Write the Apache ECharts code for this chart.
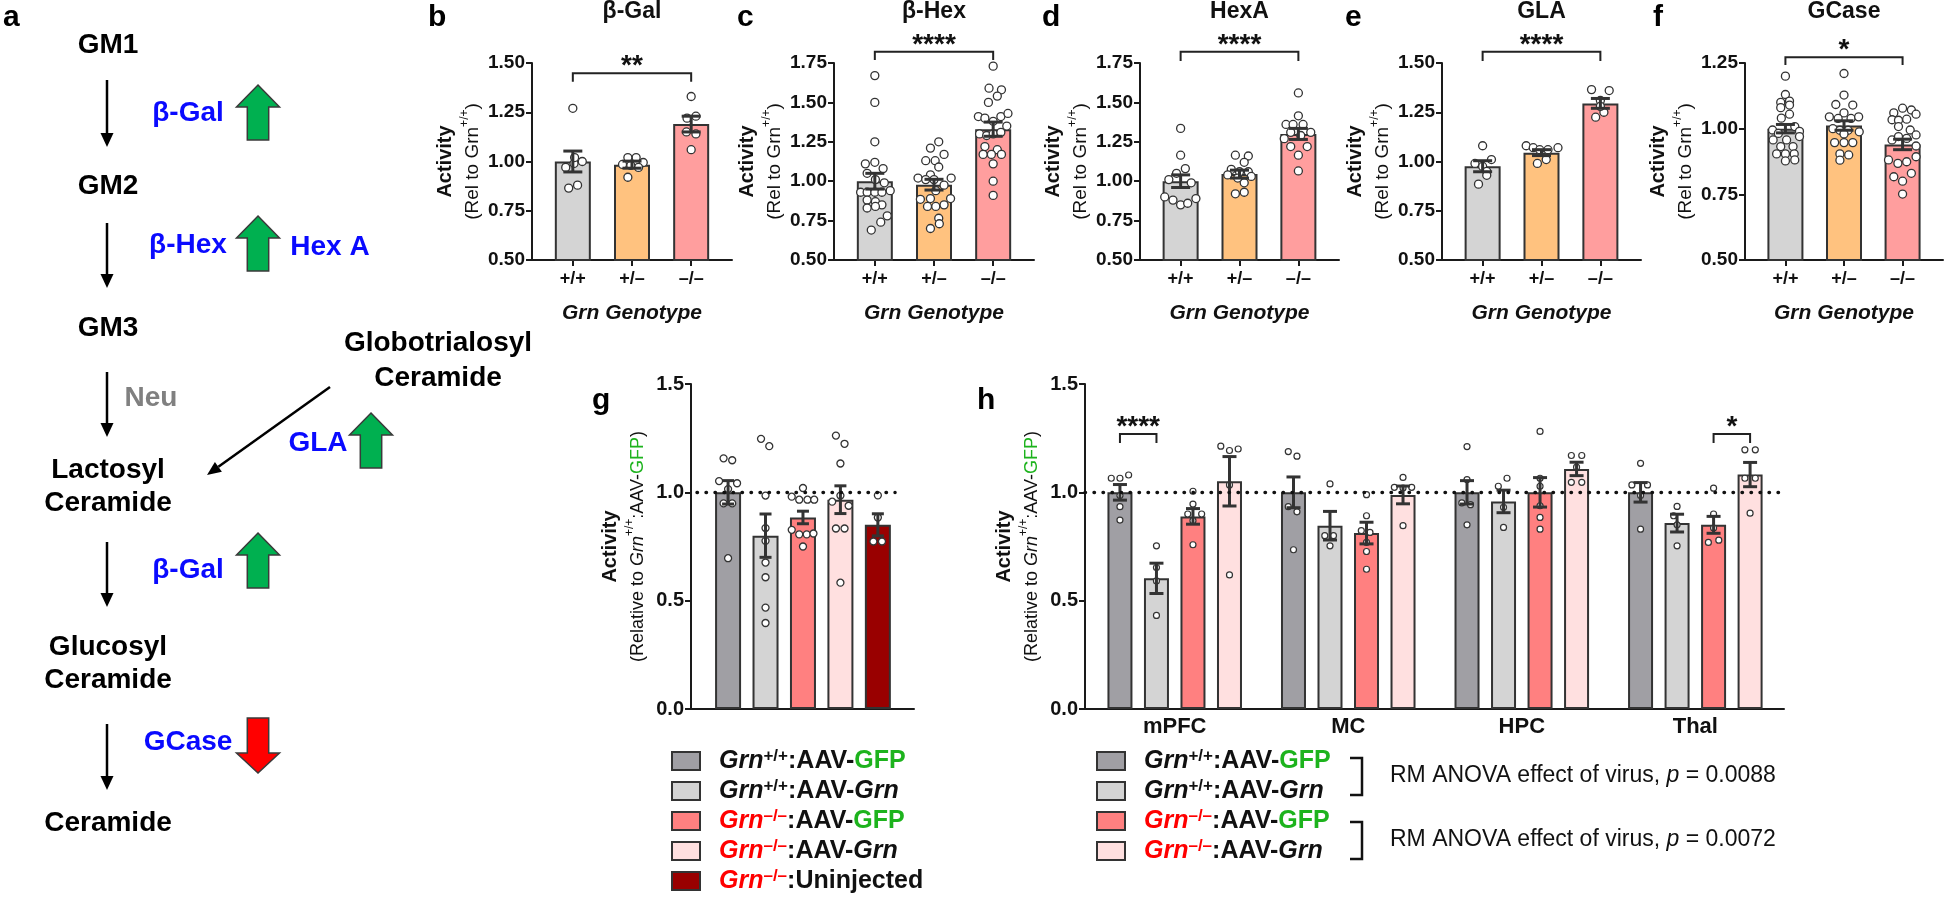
<!DOCTYPE html>
<html><head><meta charset="utf-8">
<script src="https://cdn.jsdelivr.net/npm/echarts@6/dist/echarts.min.js"></script>
<style>html,body{margin:0;padding:0;background:#fff}#c{width:1946px;height:901px}</style>
</head><body><div id="c"></div>
<script>
// ================= DATA =================
// Panels b–f : enzyme activity by Grn genotype
const genotypes = ['+/+', '+/–', '–/–'];
const enzymeTitles = ['β-Gal', 'β-Hex', 'HexA', 'GLA', 'GCase'];
const enzymeLetters = ['b', 'c', 'd', 'e', 'f'];
const enzymeYMin = [0.5, 0.5, 0.5, 0.5, 0.5];
const enzymeYMax = [1.5, 1.75, 1.75, 1.5, 1.25];

const bgalMean = [1.0, 0.984, 1.19];
const bgalSem = [0.053, 0.018, 0.04];
const bgalPts = [
  [[0,1.27],[-0.12,0.97],[0.02,0.99],[0.16,1.0],[0.03,1.02],[-0.07,0.865],[0.08,0.88]],
  [[-0.07,0.92],[0.07,1.02],[-0.07,1.02],[0.19,0.995],[-0.16,0.985],[0.11,0.97],[-0.02,0.98]],
  [[0,1.33],[0.08,1.23],[-0.07,1.22],[0.08,1.14],[-0.08,1.15],[0,1.06]]
];
const bhexMean = [1.0, 0.978, 1.33];
const bhexSem = [0.05, 0.034, 0.045];
const bhexPts = [
  [[0,1.67],[0,1.50],[0,1.25],[-0.16,1.11],[0,1.12],[0.14,1.08],[-0.13,1.05],[0.01,1.01],[0.16,0.99],[-0.24,0.93],[-0.13,0.93],[0,0.93],[0.26,0.94],[0.12,0.93],[-0.13,0.88],[0.01,0.87],[0.12,0.85],[-0.13,0.83],[0.01,0.84],[0.21,0.78],[0.1,0.74],[-0.06,0.69]],
  [[0.08,1.25],[-0.06,1.21],[0.17,1.17],[-0.14,1.13],[0.02,1.13],[0.08,1.09],[-0.06,1.04],[-0.27,1.02],[-0.14,1.01],[0,1.01],[0.29,1.02],[0.17,0.975],[0.03,0.94],[-0.23,0.885],[-0.06,0.89],[0.28,0.89],[-0.11,0.84],[0.03,0.84],[0.17,0.85],[0.08,0.765],[0.09,0.73],[-0.06,0.70]],
  [[0,1.73],[-0.07,1.59],[0.14,1.58],[0.07,1.54],[-0.08,1.50],[-0.25,1.41],[-0.14,1.40],[0,1.38],[0.13,1.41],[0.25,1.43],[0.23,1.35],[-0.23,1.30],[-0.11,1.29],[0,1.30],[0.13,1.31],[-0.14,1.22],[0.07,1.20],[-0.03,1.17],[-0.17,1.17],[0.14,1.17],[0,1.11],[0,1.00],[0,0.91]]
];
const hexaMean = [1.0, 1.045, 1.30];
const hexaSem = [0.04, 0.025, 0.035];
const hexaPts = [
  [[0,1.335],[0,1.165],[0.08,1.08],[-0.07,1.05],[-0.2,1.01],[0.18,0.99],[-0.27,0.90],[-0.13,0.88],[0,0.85],[0.12,0.86],[0.26,0.89]],
  [[-0.07,1.165],[0.15,1.16],[0.08,1.12],[-0.14,1.075],[0,1.06],[0.15,1.06],[-0.2,1.04],[0.2,1.03],[0.08,0.99],[-0.07,0.92],[0.08,0.93],[-0.03,1.02]],
  [[0,1.56],[0,1.415],[-0.21,1.36],[-0.09,1.36],[0.08,1.36],[0.21,1.31],[-0.13,1.31],[0.04,1.29],[-0.24,1.27],[-0.13,1.22],[0.15,1.22],[0,1.165],[0,1.065]]
];
const glaMean = [0.976, 1.045, 1.295];
const glaSem = [0.028, 0.015, 0.025];
const glaPts = [
  [[0,1.08],[0.15,1.01],[-0.13,0.99],[0,0.975],[0.07,0.95],[-0.07,0.885],[0.07,0.93]],
  [[-0.26,1.08],[-0.14,1.07],[-0.03,1.06],[0.11,1.06],[0.28,1.07],[0.08,1.01],[-0.07,0.99]],
  [[-0.15,1.365],[0.15,1.36],[0,1.31],[-0.08,1.225],[0.06,1.25],[0,1.28]]
];
const gcaseMean = [1.0, 1.012, 0.94];
const gcaseSem = [0.016, 0.018, 0.02];
const gcasePts = [
  [[0,1.20],[0,1.13],[-0.08,1.10],[0.07,1.105],[-0.08,1.08],[0.07,1.09],[-0.07,1.04],[0.07,1.055],[-0.22,0.995],[-0.12,0.982],[0.16,1.008],[0.24,0.99],[-0.21,0.957],[0.02,0.957],[0.24,0.97],[-0.08,0.932],[0.13,0.932],[-0.15,0.904],[0,0.904],[0.15,0.904],[0,0.877],[0.16,0.881]],
  [[0,1.21],[0,1.128],[-0.14,1.092],[0.15,1.09],[0,1.06],[-0.25,1.045],[-0.1,1.039],[0.12,1.039],[0.25,1.045],[-0.19,1.0],[-0.07,0.994],[0.07,0.994],[0.26,0.988],[-0.16,0.947],[0,0.947],[0.15,0.947],[-0.07,0.904],[0.08,0.9],[-0.07,0.88],[0,0.98]],
  [[0,1.078],[-0.15,1.06],[0.15,1.071],[0.23,1.055],[-0.18,1.034],[-0.07,1.032],[0.07,1.036],[-0.07,1.008],[0.13,0.995],[0.23,0.976],[-0.18,0.957],[-0.07,0.97],[0.07,0.963],[0.23,0.934],[-0.24,0.881],[-0.08,0.868],[0.07,0.874],[0.23,0.893],[-0.15,0.817],[0,0.80],[0.15,0.83],[0,0.751]]
];
const sigText = ['**', '****', '****', '****', '*'];
const sigTop = [1.448, 1.822, 1.822, 1.557, 1.272];
const sigLeg = [1.405, 1.769, 1.763, 1.51, 1.242];

// Panel g : AAV groups
const groupNames = ['Grn+/+:AAV-GFP', 'Grn+/+:AAV-Grn', 'Grn–/–:AAV-GFP', 'Grn–/–:AAV-Grn', 'Grn–/–:Uninjected'];
const gMean = [1.0, 0.80, 0.884, 0.966, 0.85];
const gSem = [0.054, 0.10, 0.029, 0.064, 0.051];
const gPts = [
  [[-0.12,1.157],[0.11,1.148],[-0.24,1.052],[0.24,1.042],[0,1.015],[-0.12,0.949],[0.11,0.949],[0,0.696]],
  [[-0.12,1.247],[0.1,1.213],[0,0.985],[0,0.835],[0,0.776],[0,0.676],[0,0.608],[0,0.468],[0,0.397]],
  [[0,1.02],[-0.3,0.98],[-0.1,0.966],[0.12,0.966],[0.3,0.966],[-0.3,0.827],[-0.1,0.806],[0.1,0.806],[0.28,0.81],[0,0.75]],
  [[-0.12,1.262],[0.11,1.224],[0,1.133],[0,0.985],[-0.22,0.957],[0.22,0.938],[-0.12,0.833],[0.11,0.833],[0,0.583]],
  [[0,0.986],[0,0.884],[-0.12,0.773],[0.11,0.773]]
];

// Panel h : by brain region (rows = group, cols = region)
const regions = ['mPFC', 'MC', 'HPC', 'Thal'];
const hMean = [
  [1.0, 1.0, 1.0, 1.0],
  [0.603, 0.846, 0.958, 0.858],
  [0.889, 0.812, 1.0, 0.85],
  [1.051, 0.988, 1.108, 1.082]
];
const hSem = [
  [0.036, 0.071, 0.054, 0.045],
  [0.07, 0.066, 0.052, 0.041],
  [0.036, 0.05, 0.068, 0.039],
  [0.114, 0.041, 0.031, 0.056]
];
const hPts = [
  [ [[-0.05,1.065],[0,1.065],[0.05,1.08],[0,0.985],[0,0.934],[0,0.872]],
    [[-0.03,1.188],[0.02,1.167],[-0.03,0.934],[0.02,0.91],[0,0.735]],
    [[0,1.211],[0,1.059],[-0.03,0.951],[0.02,0.943],[0,0.85]],
    [[0,1.134],[-0.05,1.034],[0.04,1.034],[0,0.985],[0,0.83]] ],
  [ [[0,0.753],[0,0.653],[0,0.591],[0,0.432]],
    [[0,1.039],[-0.03,0.80],[0.02,0.80],[0,0.753]],
    [[-0.03,1.028],[0.02,1.065],[0,0.931],[0,0.838]],
    [[0,0.935],[-0.02,0.892],[0,0.85],[0,0.753]] ],
  [ [[0,1.005],[0,0.946],[-0.03,0.90],[0.05,0.90],[0,0.869],[0,0.758]],
    [[0,0.989],[0,0.892],[-0.03,0.823],[0.02,0.815],[0,0.769],[0,0.727],[0,0.645]],
    [[0,1.281],[0,1.065],[0,1.028],[0,0.938],[0,0.884],[0,0.83]],
    [[0,1.019],[0,0.9],[0,0.835],[-0.03,0.769],[0.03,0.779]] ],
  [ [[-0.05,1.213],[0,1.193],[0.05,1.2],[0,1.034],[0,0.619]],
    [[0,1.069],[-0.05,1.023],[0,1.02],[0.05,1.023],[0,0.846]],
    [[-0.03,1.17],[0.03,1.17],[0,1.116],[-0.03,1.046],[0.03,1.046]],
    [[-0.03,1.196],[0.03,1.196],[-0.03,1.065],[0.03,1.065],[0,0.904]] ]
];
const hSigText = ['****', '*'];
const hSigRegion = [0, 3];
const hSigBars = [[0, 1], [2, 3]];
const hSigTop = 1.269, hSigLeg = 1.228;
const refLine = 1.0;
const anovaText = ['RM ANOVA effect of virus, {i|p} = 0.0088', 'RM ANOVA effect of virus, {i|p} = 0.0072'];

// Panel a : pathway diagram text
const pathwayNodes = ['GM1', 'GM2', 'GM3', 'Lactosyl\nCeramide', 'Glucosyl\nCeramide', 'Ceramide', 'Globotrialosyl\nCeramide'];
const pathwayEnzymes = ['β-Gal', 'β-Hex', 'Hex A', 'Neu', 'GLA', 'β-Gal', 'GCase'];

// ================= STYLE / LAYOUT =================
const FF = '"Liberation Sans", Arial, Helvetica, sans-serif';
const AX = '#1a1a1a';
const genoColors = ['#d4d4d4', '#ffc27f', '#ff9e9e'];
const groupColors = ['#a09fa4', '#d4d4d4', '#ff8080', '#ffe0e0', '#990000'];
const enzLeft = [532, 834, 1140, 1442, 1745];
const enzWidth = [200, 200, 199, 199, 198];
const hOffsets = [-0.3156, -0.1052, 0.1052, 0.3156];

const chart = echarts.init(document.getElementById('c'), null, {width: 1946, height: 901});

function errRender(cap) {
  return function (params, api) {
    const x = api.value(0), m = api.value(1), s = api.value(2);
    const p1 = api.coord([x, m + s]), p2 = api.coord([x, m - s]);
    const st = {stroke: '#333', lineWidth: 3};
    return {type: 'group', children: [
      {type: 'line', shape: {x1: p1[0], y1: p1[1], x2: p2[0], y2: p2[1]}, style: st},
      {type: 'line', shape: {x1: p1[0] - cap, y1: p1[1], x2: p1[0] + cap, y2: p1[1]}, style: st},
      {type: 'line', shape: {x1: p2[0] - cap, y1: p2[1], x2: p2[0] + cap, y2: p2[1]}, style: st}
    ]};
  };
}
function bracketRender(labels) {
  return function (params, api) {
    const a = api.coord([api.value(0), api.value(2)]);
    const b = api.coord([api.value(1), api.value(2)]);
    const leg = api.coord([api.value(0), api.value(3)])[1];
    return {type: 'group', children: [
      {type: 'polyline', shape: {points: [[a[0], leg], [a[0], a[1]], [b[0], b[1]], [b[0], leg]]},
        style: {stroke: '#222', lineWidth: 2, fill: 'none'}},
      {type: 'text', x: (a[0] + b[0]) / 2, y: a[1] - 6.6,
        style: {text: labels[params.dataIndex], font: 'bold 28px ' + FF, fill: '#111',
          align: 'center', verticalAlign: 'middle', textAlign: 'center', textVerticalAlign: 'middle'}}
    ]};
  };
}

const grid = [], xAxis = [], yAxis = [], series = [];
const axLine = {show: true, onZero: false, lineStyle: {color: AX, width: 2}};
const tickStyle = {color: AX, width: 2};

const enzMeans = [bgalMean, bhexMean, hexaMean, glaMean, gcaseMean];
const enzSems = [bgalSem, bhexSem, hexaSem, glaSem, gcaseSem];
const enzPts = [bgalPts, bhexPts, hexaPts, glaPts, gcasePts];

const relName = '{a|Activity}\n{r|(Rel to Grn}{s|+/+}{r|)}';
const relRich = {
  a: {fontFamily: FF, fontWeight: 'bold', fontSize: 20, lineHeight: 28, color: '#111'},
  r: {fontFamily: FF, fontSize: 19, lineHeight: 28, color: '#111'},
  s: {fontFamily: FF, fontSize: 12, lineHeight: 14, verticalAlign: 'top', color: '#111'}
};

for (let i = 0; i < 5; i++) {
  grid.push({left: enzLeft[i], top: 63, width: enzWidth[i], height: 197});
  xAxis.push({
    gridIndex: i, type: 'value', min: -0.69, max: 2.69,
    axisLine: axLine, splitLine: {show: false},
    axisTick: {show: true, customValues: [0, 1, 2], length: 6, lineStyle: tickStyle},
    axisLabel: {customValues: [0, 1, 2], formatter: v => genotypes[Math.round(v)],
      fontFamily: FF, fontWeight: 'bold', fontSize: 18, color: '#111', margin: 10},
    name: 'Grn Genotype', nameLocation: 'middle', nameGap: 42,
    nameTextStyle: {fontFamily: FF, fontWeight: 'bold', fontStyle: 'italic', fontSize: 21, lineHeight: 22, color: '#111'}
  });
  yAxis.push({
    gridIndex: i, type: 'value', min: enzymeYMin[i], max: enzymeYMax[i], interval: 0.25,
    axisLine: axLine, splitLine: {show: false},
    axisTick: {show: true, length: 6, lineStyle: tickStyle},
    axisLabel: {formatter: v => v.toFixed(2), fontFamily: FF, fontWeight: 'bold', fontSize: 19, color: '#111', margin: 7},
    name: relName, nameLocation: 'middle', nameRotate: 90, nameGap: 45,
    nameTextStyle: {rich: relRich}
  });
  series.push({
    type: 'bar', xAxisIndex: i, yAxisIndex: i, barWidth: 36, z: 2, silent: true,
    itemStyle: {borderColor: '#333', borderWidth: 2},
    data: enzMeans[i].map((m, k) => ({value: [k, m], itemStyle: {color: genoColors[k]}}))
  });
  series.push({
    type: 'scatter', xAxisIndex: i, yAxisIndex: i, z: 3, silent: true, symbolSize: 8,
    itemStyle: {color: '#fff', borderColor: '#333', borderWidth: 1.3, opacity: 1},
    data: enzPts[i].flatMap((grp, k) => grp.map(p => [k + p[0], p[1]]))
  });
  series.push({
    type: 'custom', xAxisIndex: i, yAxisIndex: i, z: 4, silent: true,
    renderItem: errRender(9.5), encode: {x: 0, y: 1},
    data: enzMeans[i].map((m, k) => [k, m, enzSems[i][k]])
  });
  series.push({
    type: 'custom', xAxisIndex: i, yAxisIndex: i, z: 4, silent: true, clip: false,
    renderItem: bracketRender([sigText[i]]), encode: {x: [0, 1], y: 2},
    data: [[0, 2, sigTop[i], sigLeg[i]]]
  });
}

// ---- g and h ----
const aavName = '{a|Activity}\n{r|(Relative to }{ri|Grn}{s|+/+}{r|:AAV-}{g|GFP}{r|)}';
const aavRich = {
  a: {fontFamily: FF, fontWeight: 'bold', fontSize: 20, lineHeight: 28, color: '#111'},
  r: {fontFamily: FF, fontSize: 18, lineHeight: 28, color: '#111'},
  ri: {fontFamily: FF, fontSize: 18, fontStyle: 'italic', lineHeight: 28, color: '#111'},
  g: {fontFamily: FF, fontSize: 18, lineHeight: 28, color: '#1db31d'},
  s: {fontFamily: FF, fontSize: 12, lineHeight: 14, verticalAlign: 'top', color: '#111'}
};
function aavY(idx) {
  return {
    gridIndex: idx, type: 'value', min: 0, max: 1.5, interval: 0.5,
    axisLine: axLine, splitLine: {show: false},
    axisTick: {show: true, length: 6, lineStyle: tickStyle},
    axisLabel: {formatter: v => v.toFixed(1), fontFamily: FF, fontWeight: 'bold', fontSize: 20, color: '#111', margin: 7},
    name: aavName, nameLocation: 'middle', nameRotate: 90, nameGap: 39,
    nameTextStyle: {rich: aavRich}
  };
}
grid.push({left: 691, top: 384, width: 223, height: 325});
grid.push({left: 1085, top: 384, width: 699, height: 325});
xAxis.push({gridIndex: 5, type: 'value', min: -0.99, max: 4.965, axisLine: axLine,
  axisTick: {show: false}, axisLabel: {show: false}, splitLine: {show: false}});
xAxis.push({gridIndex: 6, type: 'value', min: -0.517, max: 3.511, axisLine: axLine,
  axisTick: {show: false}, splitLine: {show: false},
  axisLabel: {customValues: [0, 1, 2, 3], formatter: v => regions[Math.round(v)],
    fontFamily: FF, fontWeight: 'bold', fontSize: 22, color: '#111', margin: 7}});
yAxis.push(aavY(5));
yAxis.push(aavY(6));

const dotted = {type: [0.5, 8.5], width: 3.4, color: '#111', cap: 'round'};

groupNames.forEach((n, s) => {
  series.push({
    type: 'bar', name: n, xAxisIndex: 5, yAxisIndex: 5, barWidth: 26, barGap: '-100%', z: 2, silent: true,
    itemStyle: {color: groupColors[s], borderColor: '#333', borderWidth: 2},
    data: [[s, gMean[s]]]
  });
});
series.push({
  type: 'scatter', xAxisIndex: 5, yAxisIndex: 5, z: 3, silent: true, symbolSize: 7,
  itemStyle: {color: '#fff', borderColor: '#333', borderWidth: 1.3, opacity: 1},
  data: gPts.flatMap((grp, s) => grp.map(p => [s + p[0], p[1]])),
  markLine: {silent: true, symbol: 'none', label: {show: false}, lineStyle: dotted,
    data: [[{coord: [-0.83, refLine]}, {coord: [4.46, refLine]}]]}
});
series.push({
  type: 'custom', xAxisIndex: 5, yAxisIndex: 5, z: 4, silent: true,
  renderItem: errRender(6), encode: {x: 0, y: 1},
  data: gMean.map((m, s) => [s, m, gSem[s]])
});

for (let s = 0; s < 4; s++) {
  series.push({
    type: 'bar', name: groupNames[s], xAxisIndex: 6, yAxisIndex: 6, barWidth: 25, barGap: '-100%', z: 2, silent: true,
    itemStyle: {color: groupColors[s], borderColor: '#333', borderWidth: 2},
    data: hMean[s].map((m, r) => [r + hOffsets[s], m])
  });
}
series.push({
  type: 'scatter', xAxisIndex: 6, yAxisIndex: 6, z: 3, silent: true, symbolSize: 6,
  itemStyle: {color: '#fff', borderColor: '#333', borderWidth: 1.2, opacity: 1},
  data: hPts.flatMap((rows, s) => rows.flatMap((grp, r) => grp.map(p => [r + hOffsets[s] + p[0], p[1]]))),
  markLine: {silent: true, symbol: 'none', label: {show: false}, lineStyle: dotted, data: [{yAxis: refLine}]}
});
series.push({
  type: 'custom', xAxisIndex: 6, yAxisIndex: 6, z: 4, silent: true,
  renderItem: errRender(7), encode: {x: 0, y: 1},
  data: hMean.flatMap((row, s) => row.map((m, r) => [r + hOffsets[s], m, hSem[s][r]]))
});
series.push({
  type: 'custom', xAxisIndex: 6, yAxisIndex: 6, z: 4, silent: true, clip: false,
  renderItem: bracketRender(hSigText), encode: {x: [0, 1], y: 2},
  data: hSigRegion.map((r, j) => [r + hOffsets[hSigBars[j][0]], r + hOffsets[hSigBars[j][1]], hSigTop, hSigLeg])
});

// ---- legends ----
const LS = 25;
const legendRich = {
  sp: {width: 14},
  gb: {fontFamily: FF, fontSize: LS, fontWeight: 'bold', fontStyle: 'italic', color: '#111', lineHeight: 26},
  gr: {fontFamily: FF, fontSize: LS, fontWeight: 'bold', fontStyle: 'italic', color: '#ff0000', lineHeight: 26},
  sb: {fontFamily: FF, fontSize: 17, fontWeight: 'bold', color: '#111', verticalAlign: 'top', lineHeight: 16},
  sr: {fontFamily: FF, fontSize: 17, fontWeight: 'bold', color: '#ff0000', verticalAlign: 'top', lineHeight: 16},
  t: {fontFamily: FF, fontSize: LS, fontWeight: 'bold', color: '#111', lineHeight: 26},
  it: {fontFamily: FF, fontSize: LS, fontWeight: 'bold', fontStyle: 'italic', color: '#111', lineHeight: 26},
  gfp: {fontFamily: FF, fontSize: LS, fontWeight: 'bold', color: '#1db31d', lineHeight: 26}
};
function legendFmt(name) {
  const red = name.indexOf('–/–') >= 0;
  const geno = red ? '–/–' : '+/+';
  const rest = name.split(':')[1];
  let tail;
  if (rest === 'AAV-GFP') tail = '{t|:AAV-}{gfp|GFP}';
  else if (rest === 'AAV-Grn') tail = '{t|:AAV-}{it|Grn}';
  else tail = '{t|:' + rest + '}';
  return '{sp|}' + (red ? '{gr|Grn}{sr|' + geno + '}' : '{gb|Grn}{sb|' + geno + '}') + tail;
}
const legendBase = {orient: 'vertical', itemWidth: 28, itemHeight: 18, itemGap: 4.5, padding: 0,
  selectedMode: false, formatter: legendFmt, textStyle: {rich: legendRich}};
const legend = [
  Object.assign({}, legendBase, {left: 671, top: 748, data: groupNames.map(n => ({name: n, icon: 'rect'}))}),
  Object.assign({}, legendBase, {left: 1096, top: 748, data: groupNames.slice(0, 4).map(n => ({name: n, icon: 'rect'}))})
];

// ---- graphic: panel a diagram, letters, titles, legend brackets ----
const G = [];
function T(text, x, y, size, color, opts) {
  G.push(Object.assign({type: 'text', x: x, y: y, silent: true, style: Object.assign({
    text: text, font: 'bold ' + size + 'px ' + FF, fill: color,
    align: 'center', verticalAlign: 'middle', textAlign: 'center', textVerticalAlign: 'middle'}, opts || {})}));
}
function blackArrow(x, y1, y2) {
  G.push({type: 'line', silent: true, shape: {x1: x, y1: y1, x2: x, y2: y2 - 12}, style: {stroke: '#000', lineWidth: 2.5}});
  G.push({type: 'polygon', silent: true, shape: {points: [[x - 6.5, y2 - 14], [x + 6.5, y2 - 14], [x, y2]]}, style: {fill: '#000'}});
}
function upArrow(cx, top, color) {
  G.push({type: 'polygon', silent: true, shape: {points: [[cx, top], [cx + 21.5, top + 22], [cx + 10.7, top + 22], [cx + 10.7, top + 55],
    [cx - 10.7, top + 55], [cx - 10.7, top + 22], [cx - 21.5, top + 22]]}, style: {fill: color, stroke: '#3a3a3a', lineWidth: 1.5}});
}
function downArrow(cx, top, color) {
  G.push({type: 'polygon', silent: true, shape: {points: [[cx - 10.7, top], [cx + 10.7, top], [cx + 10.7, top + 35], [cx + 21.5, top + 35],
    [cx, top + 55], [cx - 21.5, top + 35], [cx - 10.7, top + 35]]}, style: {fill: color, stroke: '#3a3a3a', lineWidth: 1.5}});
}
const BLUE = '#0a0aff', GREEN = '#00b050', RED = '#ff0000';
T(pathwayNodes[0], 108, 45, 28, '#000');
T(pathwayNodes[1], 108, 186, 28, '#000');
T(pathwayNodes[2], 108, 328, 28, '#000');
T(pathwayNodes[3], 108, 487, 28, '#000', {lineHeight: 33});
T(pathwayNodes[4], 108, 664, 28, '#000', {lineHeight: 33});
T(pathwayNodes[5], 108, 823, 28, '#000');
T(pathwayNodes[6], 438, 361, 28, '#000', {lineHeight: 35});
blackArrow(107, 80, 147);
blackArrow(107, 223, 288);
blackArrow(107, 372, 437);
blackArrow(107, 542, 607);
blackArrow(107, 724, 790);
G.push({type: 'line', silent: true, shape: {x1: 330, y1: 387, x2: 218.4, y2: 466.8}, style: {stroke: '#000', lineWidth: 2.5}});
G.push({type: 'polygon', silent: true, shape: {points: [[207, 475], [221.9, 471.7], [214.9, 461.9]]}, style: {fill: '#000'}});
T(pathwayEnzymes[0], 188, 113, 28, BLUE);
T(pathwayEnzymes[1], 188, 245, 28, BLUE);
T(pathwayEnzymes[2], 330, 247, 28, BLUE);
T(pathwayEnzymes[3], 151, 398, 28, '#808080');
T(pathwayEnzymes[4], 318, 443, 28, BLUE);
T(pathwayEnzymes[5], 188, 570, 28, BLUE);
T(pathwayEnzymes[6], 188, 742, 28, BLUE);
upArrow(258, 85, GREEN);
upArrow(258, 216, GREEN);
upArrow(371, 413, GREEN);
upArrow(258, 533, GREEN);
downArrow(258, 718, RED);
const letterPos = [[3, 18], [428, 18], [737, 18], [1042, 18], [1345, 18], [1653, 18], [592, 401], [977, 401]];
['a'].concat(enzymeLetters, ['g', 'h']).forEach((l, j) => T(l, letterPos[j][0], letterPos[j][1], 30, '#000', {align: 'left', textAlign: 'left'}));
enzymeTitles.forEach((t, i) => T(t, enzLeft[i] + enzWidth[i] / 2, 12, 23, '#111'));
[[758, 795], [822, 859]].forEach(([y1, y2], j) => {
  G.push({type: 'polyline', silent: true, shape: {points: [[1350, y1], [1362, y1], [1362, y2], [1350, y2]]}, style: {stroke: '#111', lineWidth: 2.5, fill: 'none'}});
  G.push({type: 'text', silent: true, x: 1390, y: (y1 + y2) / 2 - 1, style: {text: anovaText[j], font: '23px ' + FF, fill: '#111',
    align: 'left', verticalAlign: 'middle', textAlign: 'left', textVerticalAlign: 'middle',
    rich: {i: {fontFamily: FF, fontSize: 23, fontStyle: 'italic', fill: '#111', color: '#111'}}}});
});

chart.setOption({
  backgroundColor: '#fff',
  animation: false,
  grid: grid, xAxis: xAxis, yAxis: yAxis, series: series,
  legend: legend,
  graphic: {elements: G}
});
</script></body></html>
